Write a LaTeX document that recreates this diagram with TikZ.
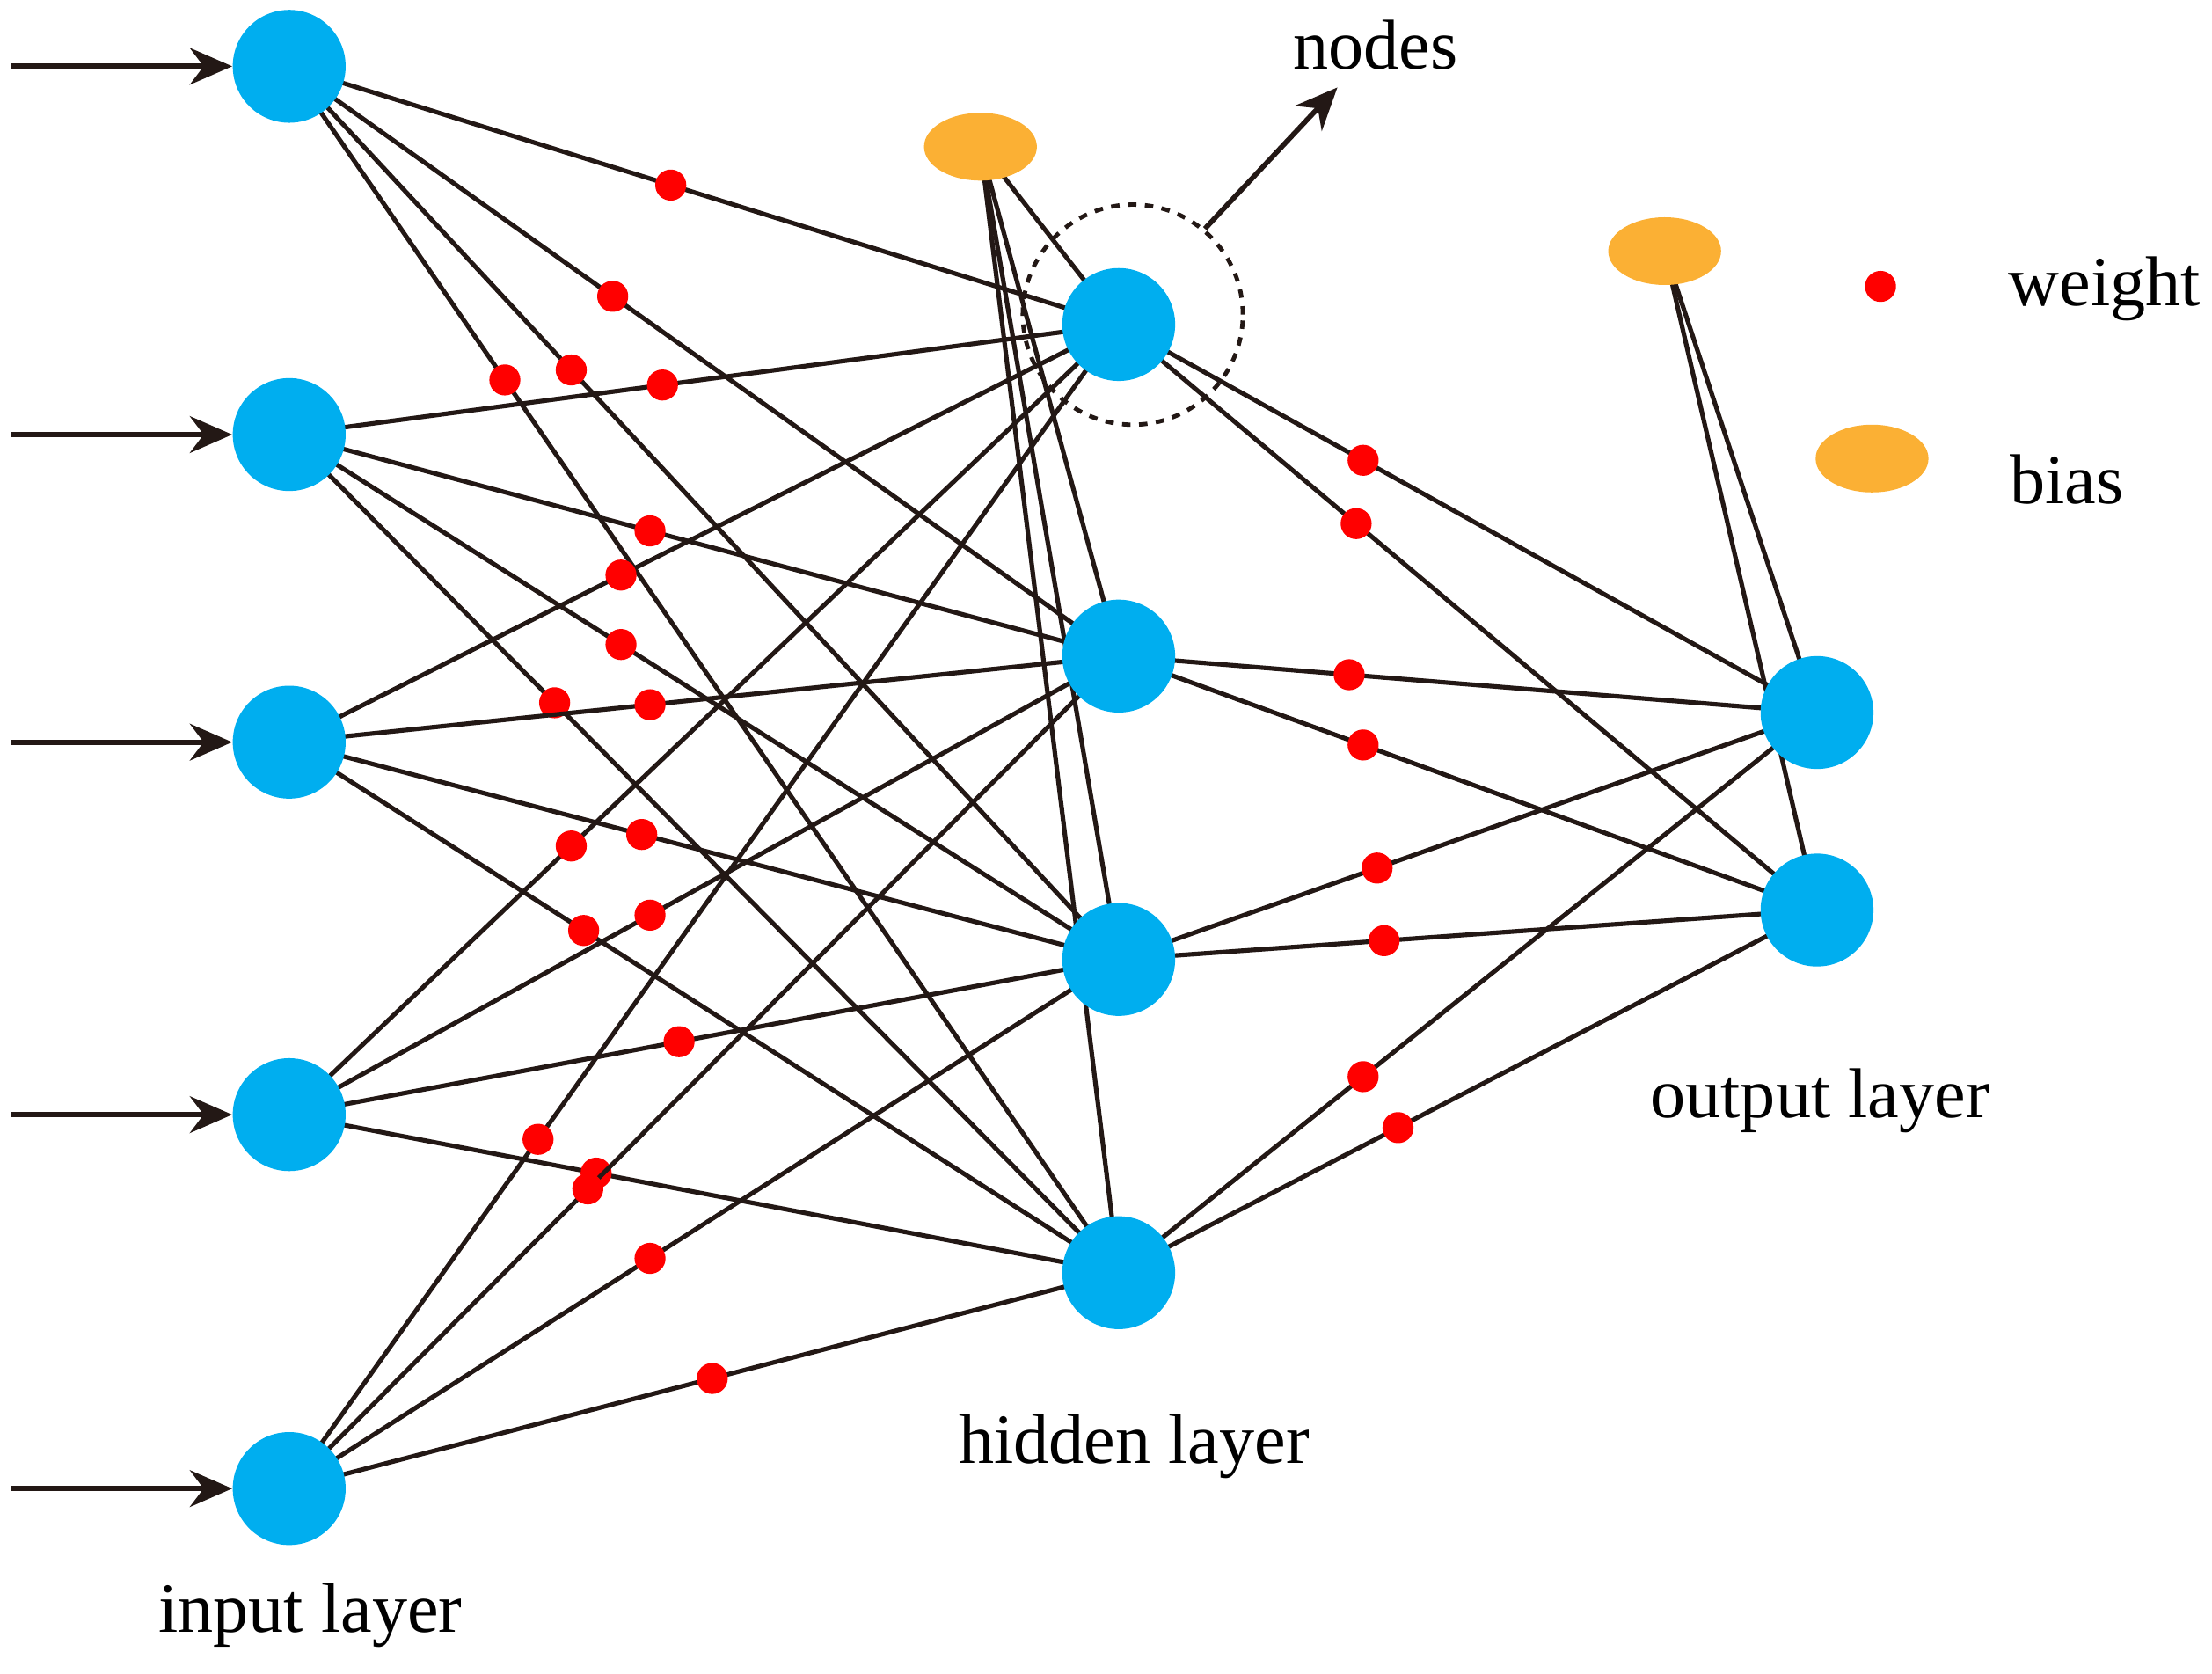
\documentclass[tikz,border=0pt]{standalone}
\usepackage{fontspec}
\setmainfont{Liberation Serif}
\usetikzlibrary{arrows.meta,shapes.geometric}
\definecolor{nblue}{RGB}{0,174,239}
\definecolor{norange}{RGB}{251,176,52}
\definecolor{lcol}{RGB}{35,24,21}
\begin{document}
\begin{tikzpicture}[x=0.5pt,y=-0.5pt,
  neuron/.style={circle,fill=nblue,minimum size=40pt,inner sep=0},
  bias/.style={ellipse,fill=norange,minimum width=40pt,minimum height=24pt,inner sep=0},
  wdot/.style={circle,fill=red,minimum size=11pt,inner sep=0},
  conn/.style={lcol,line width=1.6pt},
  arr/.style={lcol,line width=1.8pt,-{Stealth[length=15pt,width=13pt]}},
  lbl/.style={font=\fontsize{25}{30}\selectfont,text=black,inner sep=0}]
\useasboundingbox (0,0) rectangle (1568,1186);
\coordinate (I1) at (205,47); \coordinate (I2) at (205,308); \coordinate (I3) at (205,526);
\coordinate (I4) at (205,790); \coordinate (I5) at (205,1055);
\coordinate (H1) at (793,230); \coordinate (H2) at (793,465); \coordinate (H3) at (793,680); \coordinate (H4) at (793,902);
\coordinate (O1) at (1288,505); \coordinate (O2) at (1288,645);
\coordinate (B1) at (695,104); \coordinate (B2) at (1180,178);
% input to hidden
\foreach \i/\a/\b/\c/\d in {I1/.46/.39/.34/.26, I2/.45/.435/.40/.32, I3/.40/.435/.425/.355, I4/.34/.435/.47/.37, I5/.30/.36/.435/.51}{
  \draw[conn] (\i) -- node[wdot,pos=\a]{} (H1);
  \draw[conn] (\i) -- node[wdot,pos=\b]{} (H2);
  \draw[conn] (\i) -- node[wdot,pos=\c]{} (H3);
  \draw[conn] (\i) -- node[wdot,pos=\d]{} (H4);
}
\foreach \h/\a/\b in {H1/.35/.34, H2/.33/.35, H3/.37/.38, H4/.35/.40}{
  \draw[conn] (\h) -- node[wdot,pos=\a]{} (O1);
  \draw[conn] (\h) -- node[wdot,pos=\b]{} (O2);
}
\foreach \h in {H1,H2,H3,H4} \draw[conn] (B1) -- (\h);
\foreach \o in {O1,O2} \draw[conn] (B2) -- (\o);
% nodes
\foreach \n in {I1,I2,I3,I4,I5,H1,H2,H3,H4,O1,O2} \node[neuron] (n\n) at (\n) {};
\node[bias] (nB1) at (B1) {};
\node[bias] (nB2) at (B2) {};
% input arrows
\foreach \k/\y in {1/47,2/308,3/526,4/790,5/1055}{
  \coordinate (s\k) at (8,\y);
  \draw[arr] (s\k) -- (nI\k);
}
% dashed circle and nodes label
\node[circle,draw=lcol,dashed,line width=1.5pt,minimum size=78pt,inner sep=0] (dc) at (803,223) {};
\coordinate (ne) at (948,62);
\draw[arr] (dc.50) -- (ne);
\node[lbl] (tnodes) at (975,32) {nodes};
% legend
\node[wdot] (lw) at (1333,203) {};
\node[lbl] (tw) at (1492,205) {weight};
\node[bias] (lb) at (1327,325) {};
\node[lbl] (tb) at (1465,340) {bias};
% layer labels
\node[lbl] (til) at (220,1145) {input layer};
\node[lbl] (thl) at (804,1025) {hidden layer};
\node[lbl] (tol) at (1290,780) {output layer};
\end{tikzpicture}
\end{document}
